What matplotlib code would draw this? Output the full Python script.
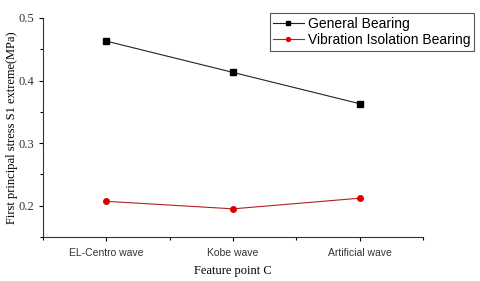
import matplotlib
matplotlib.use("Agg")
import matplotlib.pyplot as plt
from matplotlib.ticker import MultipleLocator

categories = ["EL-Centro wave", "Kobe wave", "Artificial wave"]
general = [0.463, 0.413, 0.363]
isolation = [0.207, 0.195, 0.212]

fig = plt.figure(figsize=(4.8, 2.81), dpi=100)
ax = fig.add_axes([0.0896, 0.1566, 0.7917, 0.7794])

x = list(range(len(categories)))
ax.plot(x, general, color="#222222", linewidth=0.8, marker="s", markersize=4,
        markerfacecolor="black", markeredgecolor="black", label="General Bearing")
ax.plot(x, isolation, color="#b22222", linewidth=0.8, marker="o", markersize=4,
        markerfacecolor="#dd0000", markeredgecolor="#dd0000",
        label="Vibration Isolation Bearing")

ax.set_xlim(-0.5, 2.5)
ax.set_ylim(0.15, 0.5)
ax.set_xticks(x)
ax.set_xticklabels(categories, family="Liberation Sans", fontsize=7.5, color="#333333")
ax.xaxis.set_minor_locator(MultipleLocator(0.5))
ax.yaxis.set_major_locator(MultipleLocator(0.1))
ax.yaxis.set_minor_locator(MultipleLocator(0.05))
for lab in ax.get_yticklabels():
    lab.set_family("Liberation Serif")
    lab.set_fontsize(9)
    lab.set_color("#333333")
ax.tick_params(which="major", direction="out", length=3, width=0.8, pad=3)
ax.tick_params(axis="x", which="major", pad=5)
ax.tick_params(which="minor", direction="out", length=2, width=0.8)

for side in ("top", "right"):
    ax.spines[side].set_visible(False)
for side in ("left", "bottom"):
    ax.spines[side].set_linewidth(0.8)
    ax.spines[side].set_color("#333333")

ax.set_xlabel("Feature point C", family="Liberation Serif", fontsize=9, labelpad=5)
ax.set_ylabel("First principal stress S1 extreme(MPa)", family="Liberation Serif",
              fontsize=9, labelpad=1)

leg = ax.legend(loc="upper right", bbox_to_anchor=(1.152, 1.054), fancybox=False,
                prop={"family": "Liberation Sans", "size": 10}, borderpad=0.25,
                labelspacing=0.2, handlelength=2.2, handletextpad=0.3,
                framealpha=1, markerscale=0.7)
leg.get_frame().set_edgecolor("#555555")
leg.get_frame().set_linewidth(0.8)

fig.savefig("out.png", dpi=100)
